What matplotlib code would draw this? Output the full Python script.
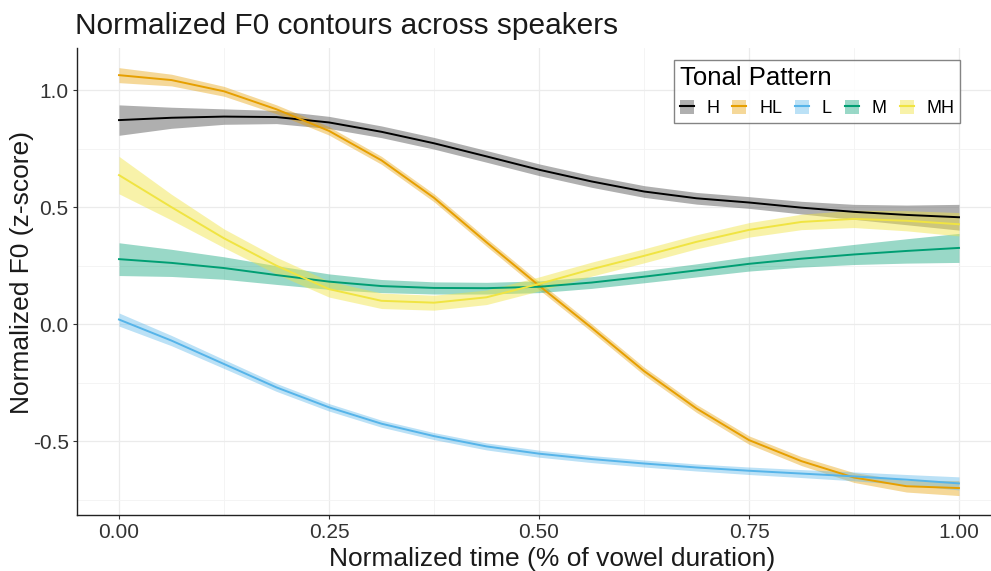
import matplotlib
matplotlib.use("Agg")
import matplotlib.pyplot as plt
from matplotlib.patches import Patch
from matplotlib.lines import Line2D
from matplotlib.ticker import MultipleLocator

plt.rcParams['font.family'] = ['Liberation Sans', 'DejaVu Sans']

# Normalized time sample positions
time = [0.0, 0.0625, 0.125, 0.1875, 0.25, 0.3125, 0.375, 0.4375, 0.5,
        0.5625, 0.625, 0.6875, 0.75, 0.8125, 0.875, 0.9375, 1.0]

patterns = ["H", "HL", "L", "M", "MH"]

f0_H = [0.872, 0.882, 0.887, 0.885, 0.862, 0.822, 0.773, 0.717, 0.66,
        0.61, 0.567, 0.538, 0.52, 0.498, 0.48, 0.467, 0.457]
f0_HL = [1.064, 1.043, 0.995, 0.918, 0.826, 0.70, 0.54, 0.35, 0.165,
         -0.015, -0.20, -0.36, -0.495, -0.585, -0.655, -0.692, -0.70]
f0_L = [0.02, -0.07, -0.17, -0.27, -0.355, -0.425, -0.478, -0.522, -0.553,
        -0.576, -0.595, -0.612, -0.626, -0.638, -0.65, -0.664, -0.68]
f0_M = [0.278, 0.262, 0.24, 0.21, 0.182, 0.163, 0.155, 0.154, 0.16,
        0.178, 0.203, 0.23, 0.258, 0.28, 0.298, 0.313, 0.326]
f0_MH = [0.637, 0.50, 0.367, 0.25, 0.15, 0.1, 0.092, 0.115, 0.172,
         0.235, 0.292, 0.352, 0.403, 0.437, 0.45, 0.442, 0.427]

# Confidence band half-widths
ci_H = [0.065, 0.045, 0.033, 0.028, 0.026, 0.025, 0.025, 0.025, 0.025,
        0.025, 0.025, 0.025, 0.025, 0.027, 0.032, 0.042, 0.055]
ci_HL = [0.032, 0.025, 0.021, 0.019, 0.018, 0.017, 0.017, 0.017, 0.017,
         0.017, 0.017, 0.017, 0.018, 0.019, 0.021, 0.025, 0.032]
ci_L = [0.028, 0.022, 0.019, 0.017, 0.016, 0.015, 0.015, 0.015, 0.015,
        0.015, 0.015, 0.015, 0.016, 0.017, 0.019, 0.022, 0.028]
ci_M = [0.07, 0.058, 0.048, 0.04, 0.033, 0.028, 0.026, 0.025, 0.025,
        0.025, 0.026, 0.028, 0.031, 0.036, 0.043, 0.052, 0.062]
ci_MH = [0.08, 0.055, 0.04, 0.036, 0.034, 0.033, 0.032, 0.031, 0.03,
         0.03, 0.03, 0.03, 0.031, 0.033, 0.037, 0.043, 0.05]

series = {"H": f0_H, "HL": f0_HL, "L": f0_L, "M": f0_M, "MH": f0_MH}
bands = {"H": ci_H, "HL": ci_HL, "L": ci_L, "M": ci_M, "MH": ci_MH}
line_colors = {"H": "#000000", "HL": "#E69F00", "L": "#56B4E9",
               "M": "#009E73", "MH": "#F0E442"}
fill_colors = {"H": "#7a7a7a", "HL": "#E69F00", "L": "#56B4E9",
               "M": "#009E73", "MH": "#F0E442"}
fill_alpha = {"H": 0.6, "HL": 0.4, "L": 0.4, "M": 0.4, "MH": 0.45}

fig = plt.figure(figsize=(9.91, 5.71), dpi=100)
ax = fig.add_axes([77/991, 56/571, 924/991, 467/571])

for p in patterns:
    y = series[p]
    c = bands[p]
    lo = [a - b for a, b in zip(y, c)]
    hi = [a + b for a, b in zip(y, c)]
    ax.fill_between(time, lo, hi, color=fill_colors[p], alpha=fill_alpha[p],
                    linewidth=0, zorder=2)
for p in patterns:
    ax.plot(time, series[p], color=line_colors[p], lw=1.4, zorder=3,
            solid_joinstyle='round')

ax.set_xlim(-0.05, 1.05)
ax.set_ylim(-0.815, 1.18)
ax.set_xticks([0, 0.25, 0.5, 0.75, 1.0])
ax.set_xticklabels(["0.00", "0.25", "0.50", "0.75", "1.00"])
ax.set_yticks([-0.5, 0.0, 0.5, 1.0])
ax.set_yticklabels(["-0.5", "0.0", "0.5", "1.0"])
ax.xaxis.set_minor_locator(MultipleLocator(0.125))
ax.yaxis.set_minor_locator(MultipleLocator(0.25))
ax.grid(which='major', color='#EBEBEB', lw=0.9, zorder=0)
ax.grid(which='minor', color='#F3F3F3', lw=0.6, zorder=0)
ax.set_axisbelow(True)
for s in ['top', 'right']:
    ax.spines[s].set_visible(False)
for s in ['left', 'bottom']:
    ax.spines[s].set_color('#222222')
    ax.spines[s].set_linewidth(1.0)
ax.tick_params(which='major', length=3, color='#333333', labelsize=15,
               labelcolor='#333333', pad=3)
ax.tick_params(which='minor', length=0)

ax.set_xlabel("Normalized time (% of vowel duration)", fontsize=19,
              color='#1a1a1a')
ax.set_ylabel("Normalized F0 (z-score)", fontsize=19, color='#1a1a1a')
ax.xaxis.set_label_coords(0.514, -0.069)
ax.yaxis.set_label_coords(-0.046, 0.52)
fig.text(75/991, 1 - 26/571, "Normalized F0 contours across speakers",
         fontsize=21.5, color='#1a1a1a', va='center', ha='left')

handles = []
for p in patterns:
    handles.append((Patch(facecolor=fill_colors[p], alpha=fill_alpha[p], edgecolor='none'),
                    Line2D([], [], color=line_colors[p], lw=1.5)))
leg = fig.legend(handles, patterns, ncol=5, title="Tonal Pattern",
                 loc='upper right', bbox_to_anchor=(960/991, 1 - 60/571),
                 fontsize=13, title_fontsize=18.5, frameon=True, fancybox=False,
                 handlelength=0.78, handleheight=0.85, handletextpad=0.7,
                 columnspacing=0.72, borderpad=0.32, labelspacing=0.55,
                 borderaxespad=0)
leg.get_frame().set_edgecolor('#666666')
leg.get_frame().set_linewidth(1.0)
leg._legend_box.align = "left"

fig.savefig("out.png", dpi=100)
